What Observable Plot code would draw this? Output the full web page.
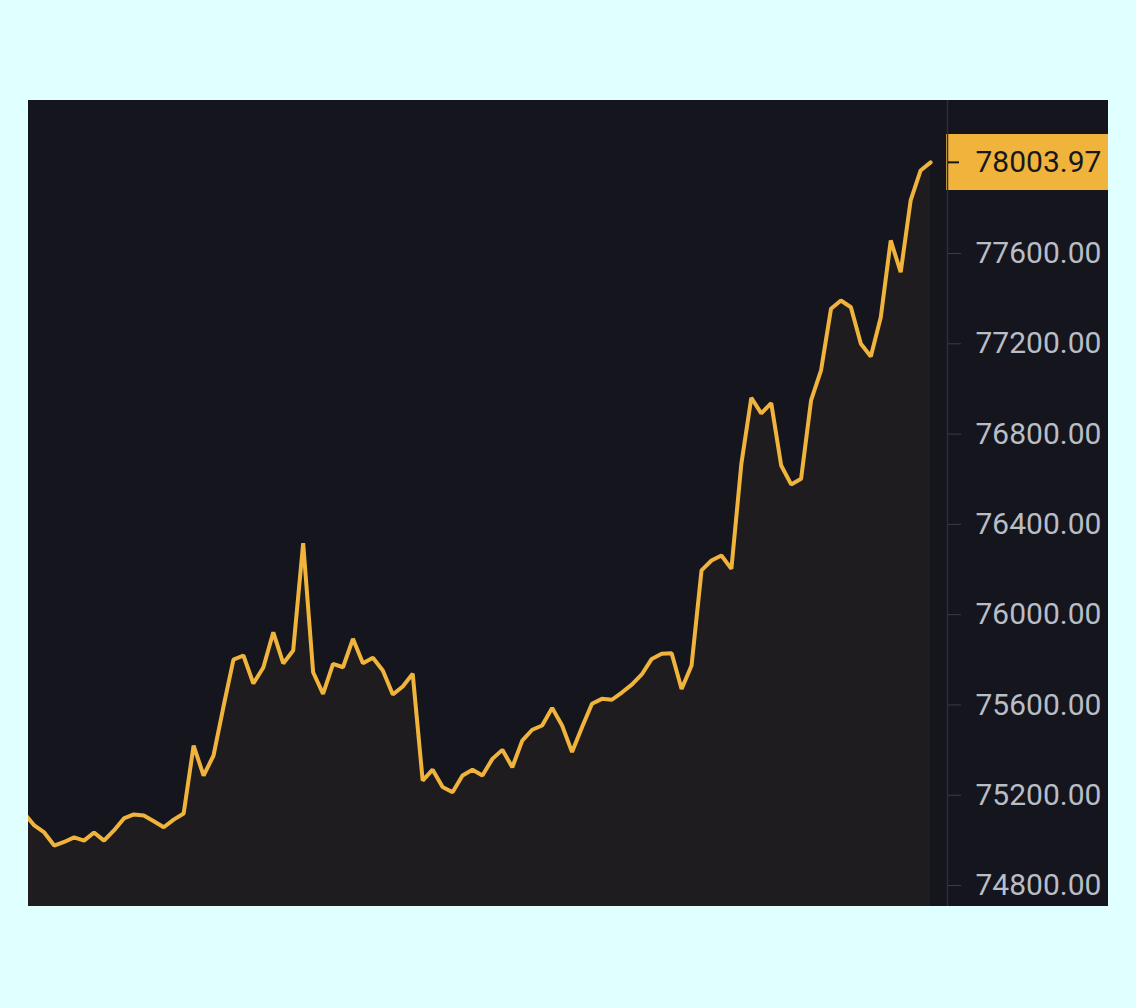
<!DOCTYPE html>
<html>
<head>
<meta charset="utf-8">
<script src="https://cdn.jsdelivr.net/npm/d3@7"></script>
<script src="https://cdn.jsdelivr.net/npm/@observablehq/plot@0.6"></script>
<style>
  html, body { margin: 0; padding: 0; background: #e0ffff; }
  #panel { position: absolute; left: 28px; top: 100px; width: 1080px; height: 806px; background: #14151d; overflow: hidden; }
  #panel svg { position: absolute; left: 0; top: 0; }
  #badge { position: absolute; background: #f0b43c; }
</style>
</head>
<body>
<div id="panel"></div>
<script>
// Price series (one value per period)
const prices = [
  75119, 75066, 75035, 74977, 74993, 75013, 74999, 75035, 74999, 75044,
  75097, 75115, 75110, 75085, 75058, 75092, 75119, 75420, 75287, 75376,
  75593, 75801, 75819, 75695, 75766, 75922, 75784, 75841, 76317, 75745,
  75649, 75782, 75767, 75893, 75785, 75809, 75753, 75646, 75682, 75738,
  75265, 75313, 75236, 75213, 75287, 75313, 75287, 75361, 75401, 75324,
  75442, 75490, 75509, 75587, 75509, 75391, 75501, 75605, 75627, 75623,
  75655, 75690, 75735, 75804, 75827, 75829, 75671, 75775, 76196, 76240,
  76262, 76203, 76668, 76961, 76892, 76937, 76661, 76577, 76602, 76949,
  77082, 77355, 77392, 77362, 77200, 77144, 77318, 77658, 77517, 77835,
  77968, 78003.97
];
const periods = prices.map((_, i) => i);
const yTicks = [74800, 75200, 75600, 76000, 76400, 76800, 77200, 77600];
const lastPrice = prices[prices.length - 1];

const data = periods.map((p, i) => ({p, v: prices[i]}));
const fmt = d => d.toFixed(2);

const chart = Plot.plot({
  width: 1080,
  height: 806,
  marginLeft: 0,
  marginRight: 161,
  marginTop: 0,
  marginBottom: 0,
  style: {background: "transparent", fontFamily: "Roboto", overflow: "visible"},
  x: {domain: [0.42, 92.7], axis: null},
  y: {domain: [74707, 78278], axis: null},
  marks: [
    Plot.areaY(data, {x: "p", y1: 74707, y2: "v", fill: "#f0b43c", fillOpacity: 0.05, clip: true}),
    Plot.lineY(data, {x: "p", y: "v", stroke: "#f0b43c", strokeWidth: 4, strokeLinejoin: "miter", clip: true}),
    Plot.frame({anchor: "right", stroke: "#2b2e37", strokeWidth: 1.5}),
    Plot.axisY(yTicks, {anchor: "right", label: null, tickSize: 13, tickPadding: 15, tickFormat: fmt,
      stroke: "#3a3d46", fill: "#b9bdc6", fontSize: 30, textAnchor: "start"}),
    Plot.axisY([lastPrice], {anchor: "right", label: null, tickSize: 11, tickPadding: 17, tickFormat: fmt,
      stroke: "#15161c", strokeWidth: 2, fill: "#17181d", fontSize: 30, textAnchor: "start"})
  ]
});

const panel = document.getElementById("panel");
const badge = document.createElement("div");
badge.id = "badge";
const yPos = chart.scale("y").apply(lastPrice);
badge.style.left = (1080 - 161 - 1) + "px";
badge.style.width = (161 + 1) + "px";
badge.style.top = (yPos - 28) + "px";
badge.style.height = "56px";
panel.appendChild(badge);
panel.appendChild(chart);
</script>
</body>
</html>
